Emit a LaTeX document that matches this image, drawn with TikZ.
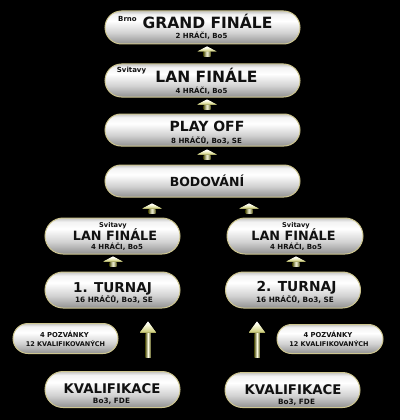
\documentclass[tikz,border=0pt]{standalone}
\usepackage{fontspec}
\setmainfont{DejaVu Sans}
\usetikzlibrary{shapes.misc,calc}
\definecolor{pillborder}{HTML}{CEC690}
\definecolor{pd}{HTML}{929292}
\definecolor{pm}{HTML}{D2D2D2}
\definecolor{pl}{HTML}{F2F2F2}
\definecolor{pt}{HTML}{C4C4C4}
\definecolor{ad}{HTML}{5A5A1C}
\definecolor{am}{HTML}{C8C870}
\definecolor{al}{HTML}{FBFBE2}
\definecolor{txtc}{HTML}{111111}
\pgfdeclareverticalshading{pillshade}{100bp}{color(0bp)=(pd); color(25bp)=(pd); color(42bp)=(pm); color(60bp)=(white); color(70bp)=(pl); color(75bp)=(pt); color(100bp)=(pt)}
\pgfdeclarehorizontalshading{arrshaft}{100bp}{color(0bp)=(ad); color(25bp)=(ad); color(50bp)=(al); color(75bp)=(ad); color(100bp)=(ad)}
\pgfdeclareverticalshading{arrhead}{100bp}{color(0bp)=(am); color(25bp)=(am); color(60bp)=(al); color(75bp)=(white); color(100bp)=(white)}
\newcommand\fsz[1]{\fontsize{#1}{#1}\selectfont\bfseries}
\tikzset{
  pill/.style={rounded rectangle, draw=pillborder, line width=1pt, shading=pillshade, inner sep=0pt},
  txt/.style={anchor=base, inner sep=0pt, text=txtc},
  pics/uparr/.style n args={4}{code={
    \shade[shading=arrshaft] (-#3/2,0) rectangle (#3/2,-#1+#4+0.5);
    \shade[shading=arrhead] (-#2/2,-#1+#4) -- (0,-#1) -- (#2/2,-#1+#4) -- (#3/2,-#1+#4) -- (-#3/2,-#1+#4) -- cycle;
    \shade[shading=arrhead] (-#2/2,-#1+#4) -- (0,-#1) -- (#2/2,-#1+#4) -- cycle;
  }}
}
\begin{document}
\begin{tikzpicture}[x=1pt,y=-1pt]
\fill[black] (0,0) rectangle (400,420);
\useasboundingbox (0,0) rectangle (400,420);
% pills
\node[pill, minimum width=195pt, minimum height=33pt] (gf) at (202.5,27.5) {};
\node[pill, minimum width=195pt, minimum height=33pt] (lan0) at (202.5,80.5) {};
\node[pill, minimum width=195pt, minimum height=32pt] (po) at (202.5,130) {};
\node[pill, minimum width=195pt, minimum height=32pt] (bod) at (202.5,181) {};
\node[pill, minimum width=135pt, minimum height=36pt] (lanL) at (112.5,236) {};
\node[pill, minimum width=135pt, minimum height=36pt] (t1) at (112.5,290) {};
\node[pill, minimum width=136pt, minimum height=36pt] (lanR) at (295,236) {};
\node[pill, minimum width=135pt, minimum height=36pt] (t2) at (293,290) {};
\node[pill, minimum width=105pt, minimum height=30pt] (pzL) at (65.5,338.5) {};
\node[pill, minimum width=135pt, minimum height=36pt] (kL) at (112.5,389.5) {};
\node[pill, minimum width=106pt, minimum height=29pt] (pzR) at (330,339) {};
\node[pill, minimum width=135pt, minimum height=35pt] (kR) at (292.5,390) {};
% arrows
\pic at ($(lan0.north)+(4.5,-7)$) {uparr={10}{19}{7}{5}};
\pic at ($(po.north)+(4.5,-4)$) {uparr={10}{19}{7}{5}};
\pic at ($(bod.north)+(4.5,-5)$) {uparr={10}{19}{7}{5}};
\pic at ($(lanL.north)+(39.5,-4)$) {uparr={10}{19}{7}{5}};
\pic at ($(lanR.north)+(-46,-4)$) {uparr={10}{19}{7}{5}};
\pic at ($(t1.north)+(0.5,-5)$) {uparr={10}{19}{7}{5}};
\pic at ($(t2.north)+(3,-5)$) {uparr={10}{19}{7}{5}};
\pic at ($(kL.north)+(35.5,-13.5)$) {uparr={36}{16}{5.5}{11}};
\pic at ($(kR.north)+(-35.5,-14.5)$) {uparr={36}{16}{5.5}{11}};
% texts
\node[txt, font=\fsz{7}] (gfc) at (127.5,22) {Brno};
\node[txt, font=\fsz{15.5}] (gft) at (207.5,29) {GRAND FINÁLE};
\node[txt, font=\fsz{7}] (gfs) at (201.5,39) {2 HRÁČI, Bo5};
\node[txt, font=\fsz{7}] (lan0c) at (131.5,73) {Svitavy};
\node[txt, font=\fsz{15.5}] (lan0t) at (206.5,82) {LAN FINÁLE};
\node[txt, font=\fsz{7}] (lan0s) at (201.5,93) {4 HRÁČI, Bo5};
\node[txt, font=\fsz{14}] (pot) at (207,131) {PLAY OFF};
\node[txt, font=\fsz{7.1}] (pos) at (206.5,143) {8 HRÁČŮ, Bo3, SE};
\node[txt, font=\fsz{12.5}] (bodt) at (207,186) {BODOVÁNÍ};
\node[txt, font=\fsz{6.6}] (lanLc) at (113,227) {Svitavy};
\node[txt, font=\fsz{12.8}] (lanLt) at (115,240) {LAN FINÁLE};
\node[txt, font=\fsz{7}] (lanLs) at (117,249.5) {4 HRÁČI, Bo5};
\node[txt, font=\fsz{13.6}] (t1t) at (112.5,292) {1. TURNAJ};
\node[txt, font=\fsz{7.3}] (t1s) at (114,302) {16 HRÁČŮ, Bo3, SE};
\node[txt, font=\fsz{6.6}] (lanRc) at (296,227) {Svitavy};
\node[txt, font=\fsz{12.8}] (lanRt) at (293.5,240) {LAN FINÁLE};
\node[txt, font=\fsz{7}] (lanRs) at (296,249.5) {4 HRÁČI, Bo5};
\node[txt, font=\fsz{13.8}] (t2t) at (296.5,291) {2. TURNAJ};
\node[txt, font=\fsz{7.3}] (t2s) at (295,302) {16 HRÁČŮ, Bo3, SE};
\node[txt, font=\fsz{6.8}] (pzLa) at (64.5,337) {4 POZVÁNKY};
\node[txt, font=\fsz{6.5}] (pzLb) at (65.5,346.5) {12 KVALIFIKOVANÝCH};
\node[txt, font=\fsz{13.3}] (kLt) at (112,393) {KVALIFIKACE};
\node[txt, font=\fsz{7.3}] (kLs) at (111.5,403) {Bo3, FDE};
\node[txt, font=\fsz{6.8}] (pzRa) at (328,337) {4 POZVÁNKY};
\node[txt, font=\fsz{6.5}] (pzRb) at (329,346.5) {12 KVALIFIKOVANÝCH};
\node[txt, font=\fsz{13.3}] (kRt) at (293,394) {KVALIFIKACE};
\node[txt, font=\fsz{7.3}] (kRs) at (296.5,404) {Bo3, FDE};
\end{tikzpicture}
\end{document}
